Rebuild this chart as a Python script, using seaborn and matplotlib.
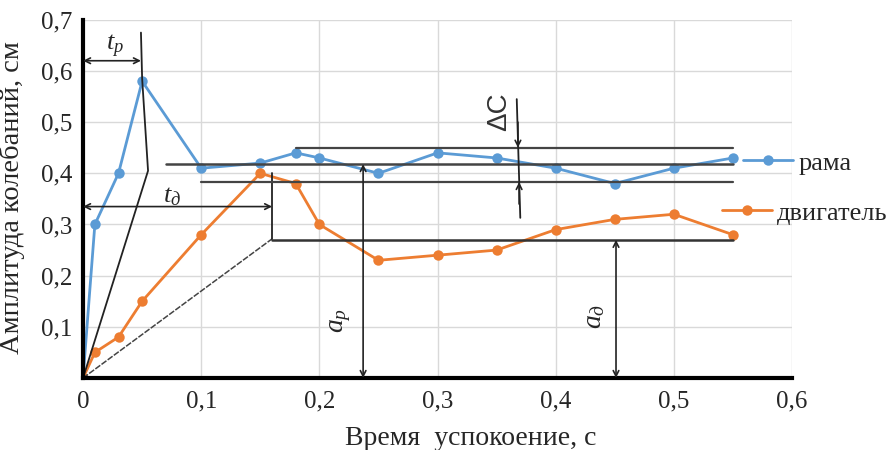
import numpy as np
import pandas as pd
import matplotlib
matplotlib.use("Agg")
import matplotlib.pyplot as plt
from matplotlib.lines import Line2D
import seaborn as sns

# values
t = [0, 0.01, 0.03, 0.05, 0.1, 0.15, 0.18, 0.2, 0.25, 0.3, 0.35, 0.4, 0.45, 0.5, 0.55]
rama = [0, 0.30, 0.40, 0.58, 0.41, 0.42, 0.44, 0.43, 0.40, 0.44, 0.43, 0.41, 0.38, 0.41, 0.43]
dvigatel = [0, 0.05, 0.08, 0.15, 0.28, 0.40, 0.38, 0.30, 0.23, 0.24, 0.25, 0.29, 0.31, 0.32, 0.28]

x_ticks = [0, 0.1, 0.2, 0.3, 0.4, 0.5, 0.6]
y_ticks = [0.1, 0.2, 0.3, 0.4, 0.5, 0.6, 0.7]

sns.set_style("whitegrid")
plt.rcParams['font.family'] = ['Liberation Serif', 'DejaVu Serif']
plt.rcParams['mathtext.fontset'] = 'custom'
plt.rcParams['mathtext.rm'] = 'Liberation Serif'
plt.rcParams['mathtext.it'] = 'Liberation Serif:italic'

blue = '#5B9BD5'
orange = '#ED7D31'

fig = plt.figure(figsize=(8.93, 4.5), dpi=100)
ax = fig.add_axes([0.093, 0.16, 0.794, 0.796])

sns.lineplot(x=t, y=rama, ax=ax, color=blue, marker='o', markersize=7.5,
             markeredgewidth=0, linewidth=2, legend=False)
sns.lineplot(x=t, y=dvigatel, ax=ax, color=orange, marker='o', markersize=7.5,
             markeredgewidth=0, linewidth=2, legend=False)

ax.set_xlim(0, 0.6)
ax.set_ylim(0, 0.7)
ax.set_xticks(x_ticks)
ax.set_yticks(y_ticks)
ax.set_xticklabels([f"{v:g}".replace('.', ',') for v in x_ticks], fontsize=18)
ax.set_yticklabels([f"{v:g}".replace('.', ',') for v in y_ticks], fontsize=18)
ax.tick_params(axis='x', length=0, pad=9)
ax.tick_params(axis='y', length=0, pad=8)
ax.grid(color='#d9d9d9', linewidth=1)
for s in ['top', 'right']:
    ax.spines[s].set_visible(False)
for s in ['left', 'bottom']:
    ax.spines[s].set_color('black')
    ax.spines[s].set_linewidth(3)

ax.set_xlabel('Время  успокоение, с', fontsize=20)
ax.xaxis.set_label_coords(0.547, -0.135)
ax.set_ylabel('Амплитуда колебаний, см', fontsize=20.5)
ax.yaxis.set_label_coords(-0.082, 0.505)

# construction lines
k = dict(color='#222222', linewidth=1.3)
ax.plot([0, 0.055, 0.05, 0.049], [0, 0.405, 0.585, 0.675], **k)
ax.plot([0, 0.16], [0, 0.272], color='#444444', linewidth=1.1, linestyle=(0, (4, 1)))
ax.plot([0.16, 0.16], [0.272, 0.40], **k)
ax.plot([0.16, 0.55], [0.27, 0.27], color='#333333', linewidth=1.8)
ax.plot([0.18, 0.55], [0.45, 0.45], color='#444444', linewidth=1.6)
ax.plot([0.07, 0.55], [0.418, 0.418], color='#444444', linewidth=1.8)
ax.plot([0.10, 0.55], [0.383, 0.383], color='#444444', linewidth=1.6)
ax.plot([0.367, 0.37], [0.545, 0.313], **k)

arr = dict(arrowstyle='<->', color='#222222', lw=1.2, shrinkA=0, shrinkB=0)
ax.annotate('', xy=(0.0, 0.62), xytext=(0.049, 0.62), arrowprops=arr)
ax.annotate('', xy=(0.0, 0.335), xytext=(0.16, 0.335), arrowprops=arr)
ax.annotate('', xy=(0.237, 0.418), xytext=(0.237, 0.0), arrowprops=arr)
ax.annotate('', xy=(0.451, 0.27), xytext=(0.451, 0.0), arrowprops=arr)
one = dict(arrowstyle='->', color='#222222', lw=1.2, shrinkA=0, shrinkB=0)
ax.annotate('', xy=(0.368, 0.45), xytext=(0.368, 0.50), arrowprops=one)
ax.annotate('', xy=(0.369, 0.383), xytext=(0.369, 0.34), arrowprops=one)

ax.text(0.027, 0.647, '$t_p$', fontsize=19, ha='center', va='center')
ax.text(0.075, 0.355, '$t_д$', fontsize=19, ha='center', va='center')
ax.text(0.218, 0.113, '$a_p$', fontsize=20, rotation=90, ha='center', va='center')
ax.text(0.433, 0.12, '$a_д$', fontsize=20, rotation=90, ha='center', va='center')
ax.text(0.352, 0.52, 'ΔC', fontsize=20, rotation=90, ha='center', va='center',
        family=['Liberation Sans', 'DejaVu Sans'], color='#333333')

# legend, one entry per series so the texts sit as in the reference
h1 = Line2D([], [], color=blue, marker='o', markersize=7.5, markeredgewidth=0, linewidth=2)
h2 = Line2D([], [], color=orange, marker='o', markersize=7.5, markeredgewidth=0, linewidth=2)
fig.legend([h1], ['рама'], loc='center left', bbox_to_anchor=(0.832, 0.638),
           frameon=False, fontsize=19, handlelength=1.9, handletextpad=0.2,
           borderaxespad=0, borderpad=0)
fig.legend([h2], ['двигатель'], loc='center left', bbox_to_anchor=(0.808, 0.527),
           frameon=False, fontsize=19, handlelength=1.9, handletextpad=0.2,
           borderaxespad=0, borderpad=0)

fig.savefig('out.png', dpi=100)
